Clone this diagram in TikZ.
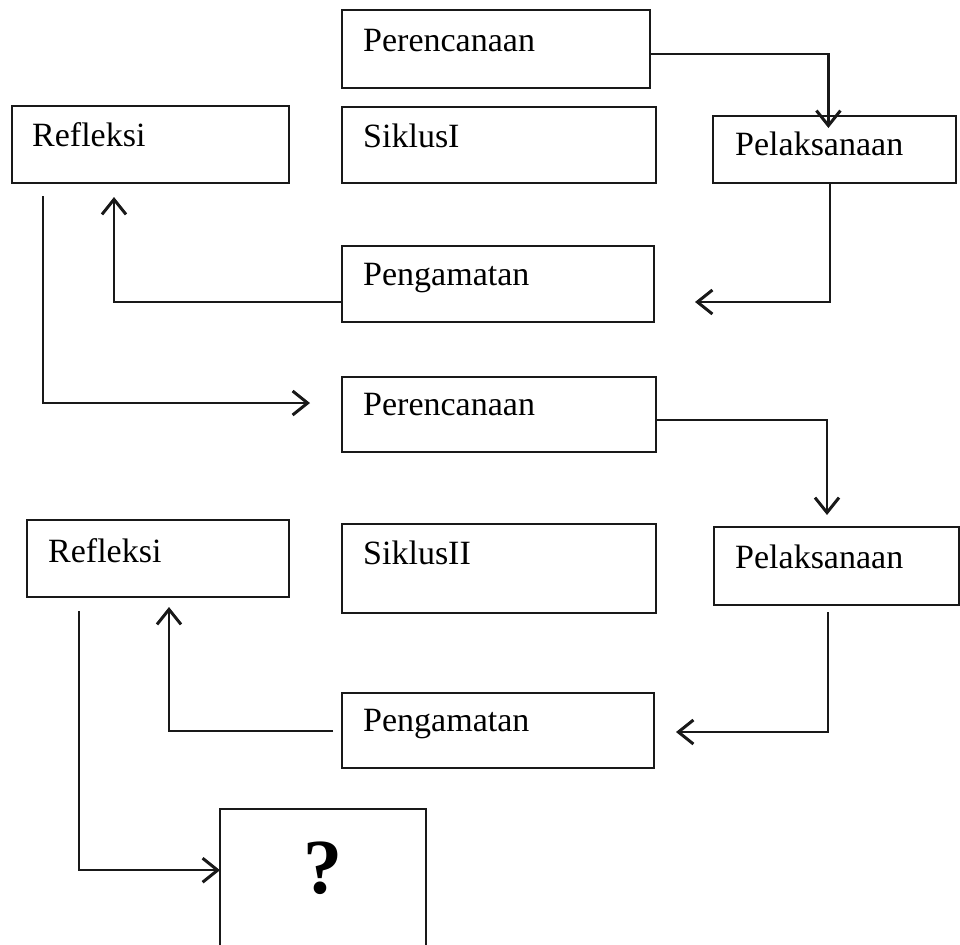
\documentclass[tikz,border=0pt]{standalone}
\usepackage{fontspec}
\setmainfont{Liberation Serif}
\usetikzlibrary{arrows.meta}
\tikzset{
  box/.style={draw=black!90, line width=1.8bp, inner sep=0pt, anchor=north west},
  lbl/.style={anchor=base west, inner sep=0pt, font=\fontsize{34bp}{40bp}\selectfont},
  arr/.style={draw=black!90, line width=2.2bp, -{Straight Barb[length=15bp,width=24bp,line width=3bp]}},
}
\begin{document}
\begin{tikzpicture}[x=1bp,y=-1bp]
\useasboundingbox (0,0) rectangle (960,945);
% boxes
\node[box, minimum width=308bp, minimum height=78bp] (per1) at (341,9) {};
\node[box, minimum width=277bp, minimum height=77bp] (refl1) at (11,105) {};
\node[box, minimum width=314bp, minimum height=76bp] (sik1) at (341,106) {};
\node[box, minimum width=243bp, minimum height=67bp] (pel1) at (712,115) {};
\node[box, minimum width=312bp, minimum height=76bp] (pen1) at (341,245) {};
\node[box, minimum width=314bp, minimum height=75bp] (per2) at (341,376) {};
\node[box, minimum width=262bp, minimum height=77bp] (refl2) at (26,519) {};
\node[box, minimum width=314bp, minimum height=89bp] (sik2) at (341,523) {};
\node[box, minimum width=245bp, minimum height=78bp] (pel2) at (713,526) {};
\node[box, minimum width=312bp, minimum height=75bp] (pen2) at (341,692) {};
\node[inner sep=0pt, anchor=north west, minimum width=206bp, minimum height=122bp] (q) at (220,809) {};
\draw[draw=black!90, line width=1.8bp] (q.north west) rectangle (426,960);
% labels
\node[lbl] (tper1) at ([shift={(22,42)}]per1.north west) {Perencanaan};
\node[lbl] (trefl1) at ([shift={(21,41)}]refl1.north west) {Refleksi};
\node[lbl] (tsik1) at ([shift={(22,41)}]sik1.north west) {SiklusI};
\node[lbl] (tpel1) at ([shift={(23,40)}]pel1.north west) {Pelaksanaan};
\node[lbl] (tpen1) at ([shift={(22,40)}]pen1.north west) {Pengamatan};
\node[lbl] (tper2) at ([shift={(22,39)}]per2.north west) {Perencanaan};
\node[lbl] (trefl2) at ([shift={(22,43)}]refl2.north west) {Refleksi};
\node[lbl] (tsik2) at ([shift={(22,41)}]sik2.north west) {SiklusII};
\node[lbl] (tpel2) at ([shift={(22,42)}]pel2.north west) {Pelaksanaan};
\node[lbl] (tpen2) at ([shift={(22,39)}]pen2.north west) {Pengamatan};
\node[anchor=base, inner sep=0pt, font=\fontsize{78bp}{90bp}\selectfont\bfseries] (tq) at (323,893) {?};
% free-end coordinates
\coordinate (c1) at (695,302);
\coordinate (s1) at (43,196);
\coordinate (t1) at (114,197);
\coordinate (t2) at (310,403);
\coordinate (t3) at (827,515);
\coordinate (s2) at (828,612);
\coordinate (t4) at (676,732);
\coordinate (s3) at (333,731);
\coordinate (t5) at (169,607);
\coordinate (s4) at (79,611);
% connectors
\draw[arr] ([yshift=-5bp]per1.east) -| ([xshift=-6bp,yshift=-13bp]pel1.north);
\draw[arr] ([xshift=-4.5bp]pel1.south) |- (c1);
\draw[arr] ([yshift=-18bp]pen1.west) -| (t1);
\draw[arr] (s1) |- (t2);
\draw[arr] ([yshift=-5.5bp]per2.east) -| (t3);
\draw[arr] (s2) |- (t4);
\draw[arr] (s3) -| (t5);
\draw[arr] (s4) |- (q.west);
\end{tikzpicture}
\end{document}
